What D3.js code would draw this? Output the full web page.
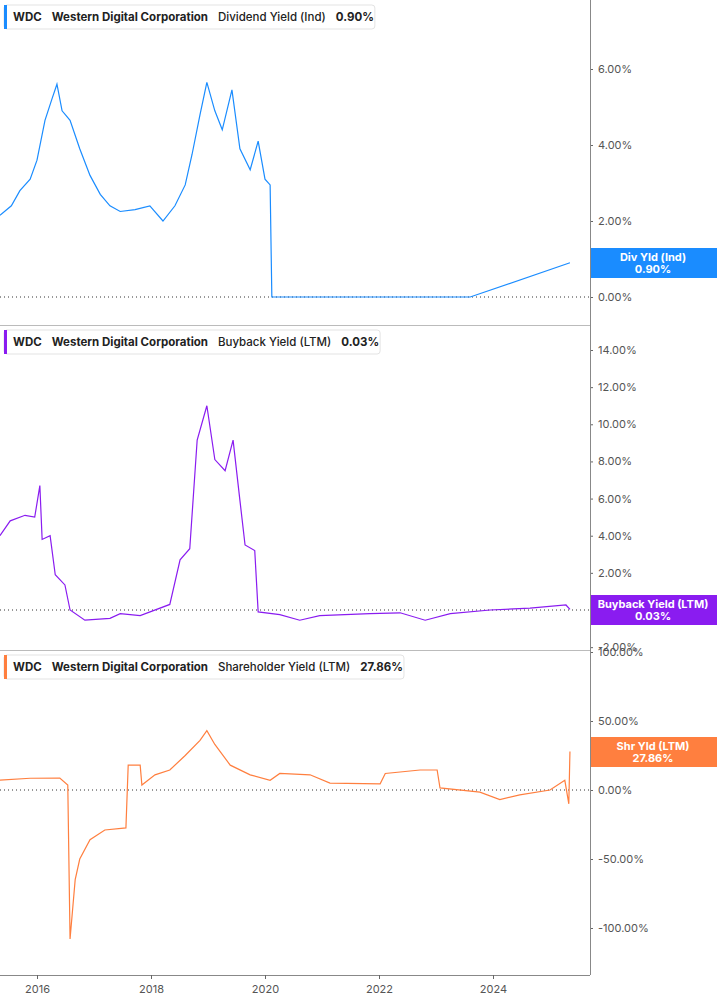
<!DOCTYPE html>
<html><head><meta charset="utf-8">
<script src="https://cdn.jsdelivr.net/npm/d3@7"></script>
<style>body{margin:0;background:#fff;font-family:Inter,sans-serif}</style></head>
<body><svg id="c" width="717" height="1005"></svg>
<script>
// data: [pixel-read year, value %]
const divYield = [[2015.35,2.15],[2015.55,2.4],[2015.7,2.8],[2015.88,3.1],[2016,3.6],[2016.14,4.65],[2016.26,5.2],[2016.35,5.6],[2016.44,4.9],[2016.58,4.65],[2016.75,3.9],[2016.93,3.2],[2017.11,2.7],[2017.28,2.4],[2017.46,2.25],[2017.72,2.3],[2017.98,2.4],[2018.21,2.0],[2018.42,2.4],[2018.6,2.95],[2018.72,3.75],[2018.86,4.8],[2018.98,5.65],[2019.12,4.9],[2019.25,4.4],[2019.42,5.45],[2019.56,3.9],[2019.74,3.35],[2019.88,4.1],[2020,3.1],[2020.09,2.95],[2020.12,0],[2023.6,0],[2025.35,0.9]];
const buyback = [[2015.35,4.0],[2015.53,4.8],[2015.79,5.1],[2015.96,5.0],[2016.05,6.7],[2016.09,3.8],[2016.23,4.0],[2016.32,1.9],[2016.49,1.35],[2016.58,0],[2016.84,-0.55],[2017.28,-0.45],[2017.46,-0.2],[2017.81,-0.3],[2018.33,0.3],[2018.51,2.7],[2018.68,3.3],[2018.81,9.15],[2018.98,11.0],[2019.12,8.1],[2019.3,7.5],[2019.44,9.15],[2019.56,5.9],[2019.65,3.5],[2019.82,3.2],[2019.88,-0.1],[2020.26,-0.25],[2020.61,-0.55],[2020.96,-0.3],[2021.84,-0.2],[2022.37,-0.15],[2022.81,-0.55],[2023.25,-0.2],[2023.95,0],[2024.65,0.1],[2025.28,0.27],[2025.35,0.03]];
const shareholder = [[2015.35,7.2],[2015.88,8.5],[2016.4,8.7],[2016.54,3.6],[2016.58,-108],[2016.67,-65],[2016.75,-50],[2016.93,-36],[2017.19,-29],[2017.56,-27.5],[2017.6,18],[2017.81,18],[2017.84,3.6],[2018.07,11],[2018.33,14.5],[2018.6,25],[2018.86,36],[2018.98,43],[2019.12,33],[2019.39,18],[2019.74,11],[2020.09,7],[2020.26,12],[2020.79,11],[2021.14,5],[2022.02,4.5],[2022.11,12],[2022.72,14.5],[2023.02,14.5],[2023.07,1.5],[2023.77,-1.5],[2024.12,-7],[2024.47,-3.5],[2025,0],[2025.26,7],[2025.33,-10],[2025.35,27.86]];
const divTicks = [0,2,4,6];
const bbTicks = [-2,0,2,4,6,8,10,12,14];
const shTicks = [-100,-50,0,50,100];
const xTicks = [2016,2018,2020,2022,2024];

const svg = d3.select("#c");
const x = d3.scaleLinear().domain([2016,2024]).range([37,493]);
const W = 590;
const panels = [
 {data:divYield,ticks:divTicks,y:d3.scaleLinear().domain([0,6]).range([297,69]),top:0,bot:325,color:"#1a8cff",
  legend:"Dividend Yield (Ind)",val:"0.90%",tag:"Div Yld (Ind)",tagY:248},
 {data:buyback,ticks:bbTicks,y:d3.scaleLinear().domain([0,14]).range([610,350]),top:325,bot:650,color:"#8a1cf0",
  legend:"Buyback Yield (LTM)",val:"0.03%",tag:"Buyback Yield (LTM)",tagY:595},
 {data:shareholder,ticks:shTicks,y:d3.scaleLinear().domain([0,100]).range([790,652]),top:650,bot:975,color:"#ff7f3f",
  legend:"Shareholder Yield (LTM)",val:"27.86%",tag:"Shr Yld (LTM)",tagY:737}
];
panels.forEach(p=>{
  if(p.top>0) svg.append("line").attr("x1",0).attr("x2",W).attr("y1",p.top+0.5).attr("y2",p.top+0.5).attr("stroke","#bbb");
  const g=svg.append("g").attr("transform",`translate(${W},0)`);
  const ax=d3.axisRight(p.y).tickValues(p.ticks).tickSize(3).tickFormat(d=>d.toFixed(2)+"%");
  g.call(ax);g.select(".domain").remove();
  g.selectAll("text").attr("fill","#555").style("font-size","11px").style("font-family","Inter,sans-serif").attr("x",8);
  g.selectAll("line").attr("stroke","#666");
  svg.append("line").attr("x1",0).attr("x2",W).attr("y1",p.y(0)).attr("y2",p.y(0)).attr("stroke","#333").attr("stroke-dasharray","1,3");
  svg.append("path").datum(p.data).attr("fill","none").attr("stroke",p.color).attr("stroke-width",1.2)
    .attr("d",d3.line().x(d=>x(d[0])).y(d=>p.y(d[1])));
  const lg=svg.append("g").attr("transform",`translate(4,${p.top+5})`);
  const t=lg.append("text").attr("x",9).attr("y",16).style("font-size","11.5px").attr("fill","#222");
  t.append("tspan").attr("font-weight","700").text("WDC");
  t.append("tspan").attr("dx",10).attr("font-weight","700").text("Western Digital Corporation");
  t.append("tspan").attr("dx",10).attr("font-weight","500").text(p.legend);
  t.append("tspan").attr("dx",10).attr("font-weight","700").text(p.val);
  const bw=t.node().getComputedTextLength()+40;
  lg.insert("rect","text").attr("width",bw).attr("height",24).attr("rx",3).attr("fill","#fff").attr("stroke","#e3e3e3");
  lg.insert("rect","text").attr("width",3).attr("height",24).attr("fill",p.color);
  svg.append("rect").attr("x",W).attr("y",p.tagY).attr("width",127).attr("height",30).attr("fill",p.color);
  svg.append("text").attr("x",W+63).attr("y",p.tagY+13).attr("text-anchor","middle").attr("fill","#fff").style("font-size","11px").attr("font-weight","700").text(p.tag);
  svg.append("text").attr("x",W+63).attr("y",p.tagY+25).attr("text-anchor","middle").attr("fill","#fff").style("font-size","11px").attr("font-weight","700").text(p.val);
});
svg.append("line").attr("x1",W+0.5).attr("x2",W+0.5).attr("y1",0).attr("y2",975).attr("stroke","#888");
svg.append("line").attr("x1",0).attr("x2",W).attr("y1",975.5).attr("y2",975.5).attr("stroke","#888");
const xa=svg.append("g").attr("transform","translate(0,975)").call(d3.axisBottom(x).tickValues(xTicks).tickSize(4).tickFormat(d3.format("d")));
xa.select(".domain").remove();
xa.selectAll("text").attr("fill","#555").style("font-size","11px").style("font-family","Inter,sans-serif").attr("y",10);
xa.selectAll("line").attr("stroke","#666");
</script></body></html>
